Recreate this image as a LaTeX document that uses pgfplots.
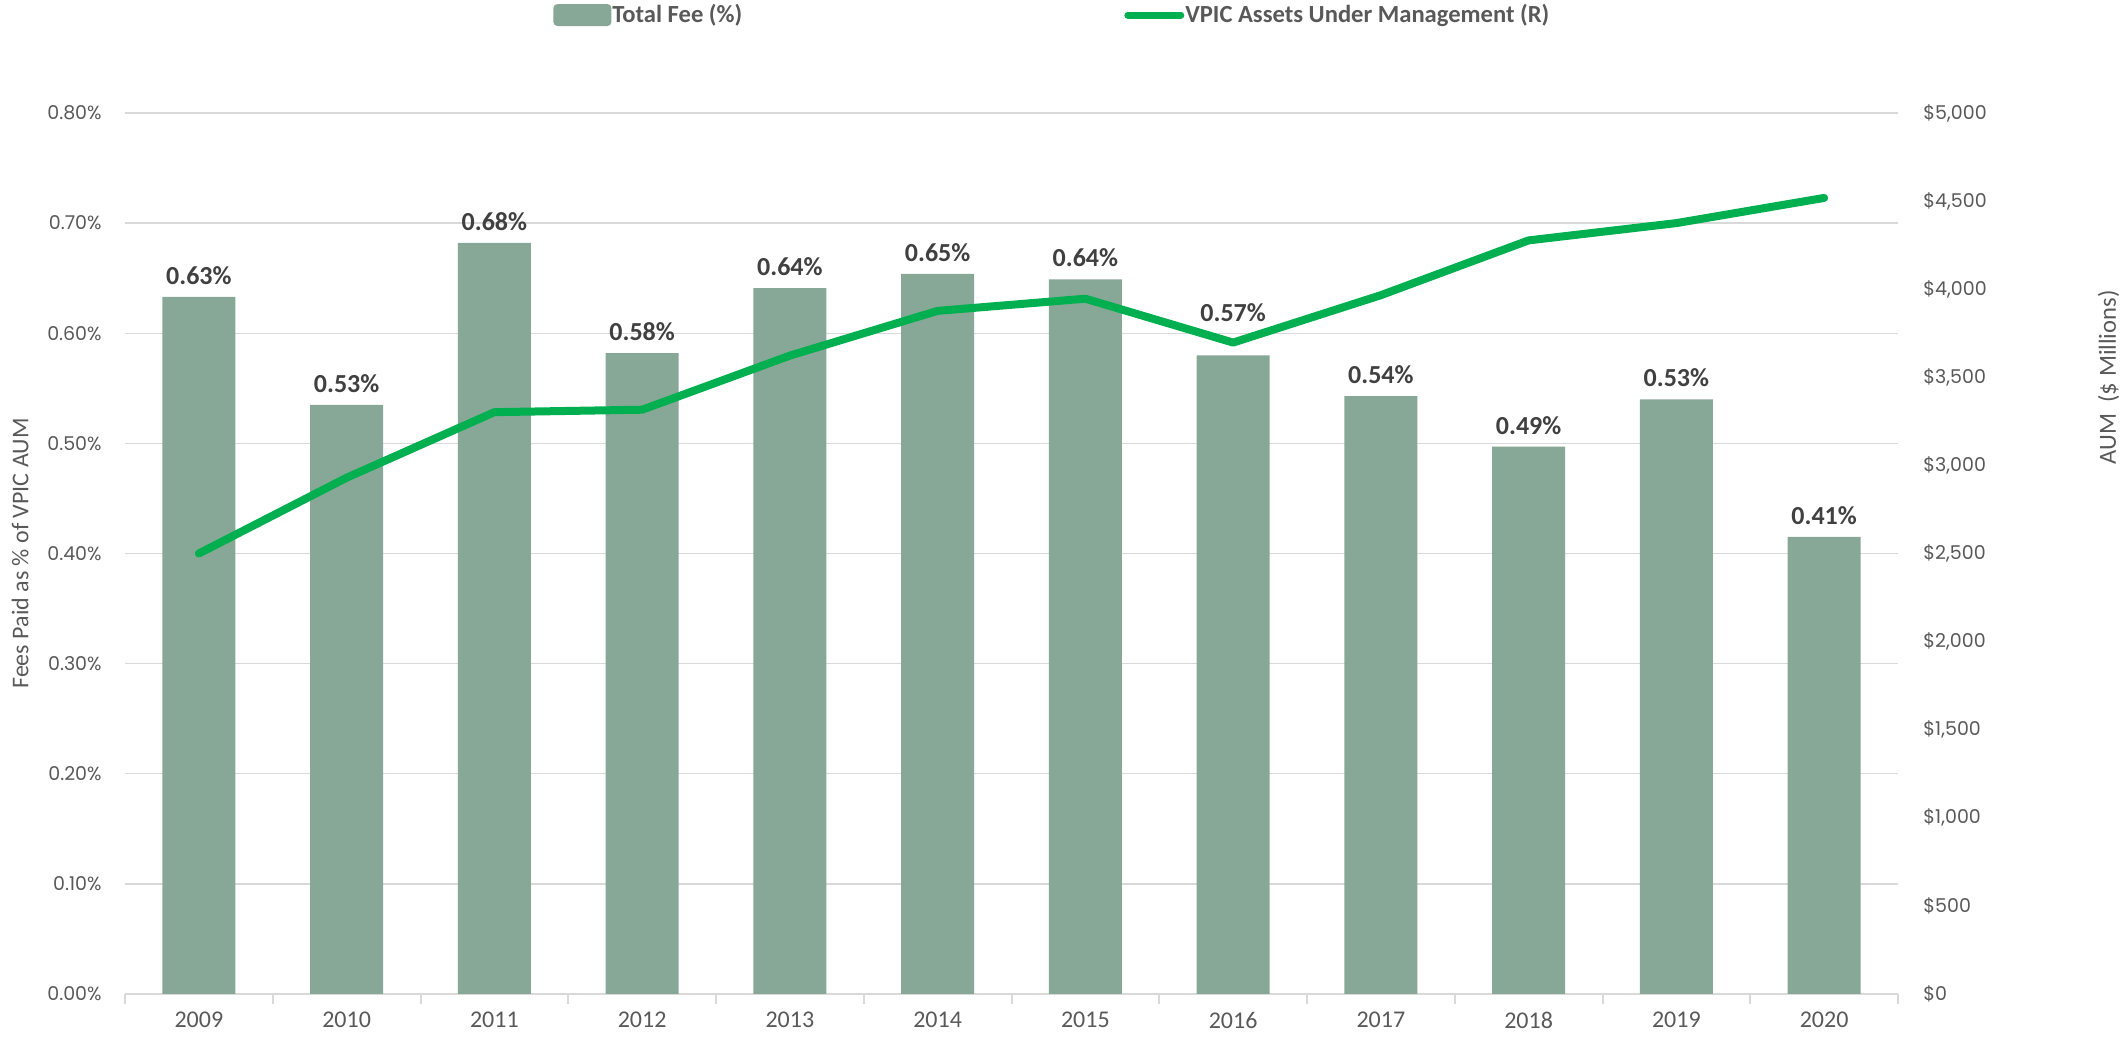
\documentclass[border=0pt]{standalone}
\usepackage{pgfplots}
\pgfplotsset{compat=1.18}
\usepackage{fontspec}
\setmainfont{Carlito}
\newfontfamily\tickfont{Poppins}
\definecolor{barc}{HTML}{88A897}
\definecolor{linec}{HTML}{00B050}
\definecolor{gridc}{HTML}{D9D9D9}
\definecolor{axtext}{HTML}{595959}
\definecolor{labtext}{HTML}{404040}
\begin{document}
\begin{tikzpicture}
\path[use as bounding box] (-62.5pt,-22pt) rectangle (1000.5pt,497pt);
\begin{axis}[
  at={(0pt,0pt)}, anchor=south west,
  scale only axis, width=886.5pt, height=440.5pt,
  xmin=-0.5, xmax=11.5, ymin=0, ymax=0.8,
  axis x line*=bottom, axis y line*=left,
  y axis line style={draw=none},
  x axis line style={draw=gridc, line width=1pt},
  xtick={0,...,11},
  xticklabels={2009,2010,2011,2012,2013,2014,2015,2016,2017,2018,2019,2020},
  minor xtick={-0.5,0.5,...,11.5},
  major tick length=0pt, minor tick length=5pt, tick align=outside,
  minor tick style={draw=gridc, line width=1pt},
  ytick={0,0.1,...,0.8},
  ymajorgrids, major grid style={draw=gridc, line width=0.75pt},
  /pgf/number format/assume math mode=true,
  yticklabel={\pgfmathprintnumber[fixed,fixed zerofill,precision=2]{\tick}\%},
  yticklabel style={anchor=east, inner sep=0pt, xshift=-11.5pt, font=\tickfont\fontsize{9.5}{11}\selectfont, text=axtext},
  xticklabel style={anchor=north, inner sep=0pt, yshift=-9pt, font=\fontsize{12}{14}\selectfont, text=axtext},
  ylabel={Fees Paid as \% of VPIC AUM},
  ylabel style={at={(axis description cs:-0.0592,0.5)}, anchor=center, font=\fontsize{12}{14}\selectfont, text=axtext},
  legend style={at={(0.2414,1.1112)}, anchor=west, draw=none, fill=none, inner sep=0pt,
    font=\bfseries\fontsize{12.3}{14}\selectfont, text=axtext, nodes={inner sep=0.5pt}},
  legend image code/.code={\fill[barc, rounded corners=2pt] (0pt,-5.5pt) rectangle (29pt,5.5pt);},
]
\addplot[ybar, bar width=36.5pt, fill=barc, draw=none,
  point meta=explicit symbolic,
  nodes near coords,
  every node near coord/.append style={anchor=base, inner sep=0pt, yshift=6.2pt, font=\bfseries\fontsize{13}{15}\selectfont, text=labtext}]
coordinates {
(0,0.633) [0.63\%]
(1,0.535) [0.53\%]
(2,0.682) [0.68\%]
(3,0.582) [0.58\%]
(4,0.641) [0.64\%]
(5,0.654) [0.65\%]
(6,0.649) [0.64\%]
(7,0.580) [\raisebox{10.5pt}{0.57\%}]
(8,0.543) [0.54\%]
(9,0.497) [0.49\%]
(10,0.540) [0.53\%]
(11,0.415) [0.41\%]
};
\addlegendentry{Total Fee (\%)}
\end{axis}
\begin{axis}[
  at={(0pt,0pt)}, anchor=south west,
  scale only axis, width=886.5pt, height=440.5pt,
  xmin=-0.5, xmax=11.5, ymin=0, ymax=5000,
  axis x line=none, axis y line*=right,
  y axis line style={draw=none},
  major tick length=0pt,
  ytick={0,500,...,5000},
  /pgf/number format/assume math mode=true,
  yticklabel={\$\pgfmathprintnumber[1000 sep={,}]{\tick}},
  yticklabel style={anchor=west, inner sep=0pt, xshift=12.5pt, font=\tickfont\fontsize{9.5}{11}\selectfont, text=axtext},
  ylabel={AUM\hspace{0.45em}(\$ Millions)},
  ylabel style={at={(axis description cs:1.1187,0.70)}, anchor=center, font=\fontsize{12.3}{14}\selectfont, text=axtext},
  legend style={at={(0.5634,1.1112)}, anchor=west, draw=none, fill=none, inner sep=0pt,
    font=\bfseries\fontsize{12.3}{14}\selectfont, text=axtext, nodes={inner sep=0.5pt}},
  legend image code/.code={\draw[linec, line width=3.5pt, line cap=round] (1.75pt,0pt) -- (28.25pt,0pt);},
]
\addplot[linec, line width=4pt, line cap=round, line join=round] coordinates {
(0,2500) (1,2930) (2,3302) (3,3316) (4,3623) (5,3877) (6,3946) (7,3697) (8,3966) (9,4277) (10,4375) (11,4518)
};
\addlegendentry{VPIC Assets Under Management (R)}
\end{axis}
\end{tikzpicture}
\end{document}
